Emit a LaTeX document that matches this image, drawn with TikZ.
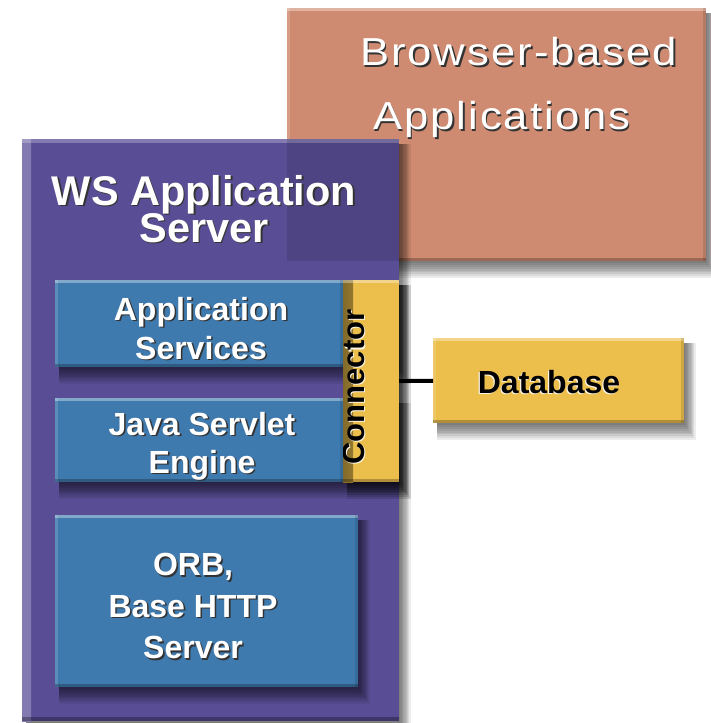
\documentclass[tikz,border=0pt]{standalone}
\usepackage{fontspec}
\setmainfont{Liberation Sans}
\newfontfamily\widefont[FakeStretch=1.12,LetterSpace=5]{Liberation Sans}
\definecolor{salmon}{RGB}{207,139,113}
\definecolor{wspurple}{RGB}{89,78,150}
\definecolor{wsblue}{RGB}{63,122,174}
\definecolor{wsyellow}{RGB}{236,191,76}
\lineskiplimit=-100pt
\newcommand\shw[1]{\leavevmode\rlap{\kern1.6pt\raisebox{-1.6pt}{\textcolor{black!80}{#1}}}#1}
\newcommand\shy[1]{\leavevmode\rlap{\kern-1.2pt\raisebox{-1.2pt}{\textcolor{white!85!wsyellow}{#1}}}#1}
% soft blurred drop shadow below/right of a rectangle (x1,y1)-(x2,y2)
\newcommand\softshadow[4]{%
  \foreach \k in {1,...,9}{\fill[black,opacity=.075] (#1+4,#2+5) rectangle (#3+\k*1.3,#4+\k*1.9);}}
\tikzset{
  bevel/.style={path picture={
      \fill[white,opacity=.35] (path picture bounding box.north west) rectangle ([yshift=-3pt]path picture bounding box.north east);
      \fill[white,opacity=.15] (path picture bounding box.north west) rectangle ([xshift=3pt]path picture bounding box.south west);
      \fill[black,opacity=.25] ([yshift=3pt]path picture bounding box.south west) rectangle (path picture bounding box.south east);
      \fill[black,opacity=.12] ([xshift=-3pt]path picture bounding box.north east) rectangle (path picture bounding box.south east);
    }},
  panel/.style={rectangle, inner sep=0pt, outer sep=0pt, anchor=north west, fill=#1, bevel},
  boxtext/.style={inner sep=0pt, align=center, text=white, anchor=north,
    font=\bfseries\fontsize{32}{39}\selectfont},
}
\begin{document}
\begin{tikzpicture}[x=1pt,y=-1pt]
\useasboundingbox (0,0) rectangle (711,723);
\fill[white] (0,0) rectangle (711,723);
% browser-based applications
\softshadow{287}{8}{706}{261}
\node[panel=salmon, minimum width=419pt, minimum height=253pt] (browser) at (287,8) {};
\node[anchor=north west, inner sep=0pt, text=white, align=left,
  font=\widefont\fontsize{39}{64}\selectfont] (browsertxt) at (360,37)
  {\shw{Browser-based}\\\mbox{\kern13pt\shw{Applications}}};
% WS application server
\softshadow{22}{139}{399}{721}
\node[panel=wspurple, minimum width=377pt, minimum height=582pt,
  path picture={
    \shade[left color=white!25!wspurple, right color=wspurple] (path picture bounding box.north west) rectangle ([xshift=9pt]path picture bounding box.south west);
    \fill[white,opacity=.25] (path picture bounding box.north west) rectangle ([yshift=-4pt]path picture bounding box.north east);
    \fill[black,opacity=.3] ([yshift=4pt]path picture bounding box.south west) rectangle (path picture bounding box.south east);
  }] (ws) at (22,139) {};
\fill[black,opacity=.12] (ws.north -| browser.west) rectangle (browser.south -| ws.east);
\node[boxtext, font=\bfseries\fontsize{41.5}{37}\selectfont] (wstxt) at (204,175)
  {\shw{WS Application}\\\shw{Server}};
% shadows of the inner boxes
\softshadow{55}{280}{399}{367}
\softshadow{55}{398}{399}{482}
\softshadow{343}{280}{399}{482}
\softshadow{55}{515}{358}{687}
% connector
\node[panel=wsyellow, minimum width=56pt, minimum height=202pt,
  path picture={
    \shade[left color=wsyellow!55!black, right color=wsyellow] (path picture bounding box.north west) rectangle ([xshift=10pt]path picture bounding box.south west);
    \fill[white,opacity=.35] (path picture bounding box.north west) rectangle ([yshift=-3pt]path picture bounding box.north east);
    \fill[black,opacity=.25] ([yshift=3pt]path picture bounding box.south west) rectangle (path picture bounding box.south east);
  }] (conn) at (343,280) {};
\node[rotate=90, inner sep=0pt, font=\bfseries\fontsize{31}{31}\selectfont] (conntxt) at (354,387) {\shy{Connector}};
% application services
\node[panel=wsblue, minimum width=288pt, minimum height=87pt] (appsvc) at (55,280) {};
\node[boxtext] (appsvctxt) at (201,297) {\shw{Application}\\\shw{Services}};
% java servlet engine
\node[panel=wsblue, minimum width=288pt, minimum height=84pt] (java) at (55,398) {};
\node[boxtext, font=\bfseries\fontsize{32}{38}\selectfont] (javatxt) at (202,412) {\shw{Java Servlet}\\\shw{Engine}};
% ORB
\node[panel=wsblue, minimum width=303pt, minimum height=172pt] (orb) at (55,515) {};
\node[boxtext, font=\bfseries\fontsize{32}{41.5}\selectfont] (orbtxt) at (193,553) {\shw{ORB,}\\\shw{Base HTTP}\\\shw{Server}};
% database
\softshadow{433}{338}{684}{423}
\node[panel=wsyellow, minimum width=251pt, minimum height=85pt] (db) at (433,338) {};
\node[inner sep=0pt, anchor=north, font=\bfseries\fontsize{32}{32}\selectfont] (dbtxt) at (549,370) {\shy{Database}};
% link
\draw[line width=4pt, black] (conn) -- (db);
\end{tikzpicture}
\end{document}
